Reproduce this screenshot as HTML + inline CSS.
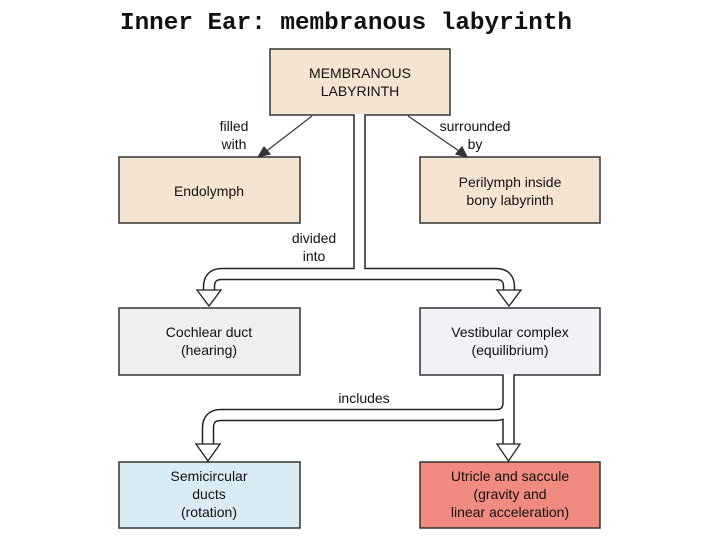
<!DOCTYPE html>
<html><head><meta charset="utf-8"><style>
html,body{margin:0;padding:0;background:#fff;}
svg{display:block;}
text{font-family:"Liberation Sans",Arial,sans-serif;fill:#111;}
</style></head><body>
<svg width="720" height="540" viewBox="0 0 720 540" xmlns="http://www.w3.org/2000/svg">
<text x="120" y="29" font-size="24" font-weight="bold" textLength="452" lengthAdjust="spacingAndGlyphs" style="font-family:'Liberation Mono',monospace">Inner Ear: membranous labyrinth</text>

<!-- boxes -->
<g stroke="#333" stroke-width="1.5">
<rect x="270" y="49" width="180" height="66" fill="#f6e4d3"/>
<rect x="119" y="157" width="181" height="66" fill="#f6e4d3"/>
<rect x="420" y="157" width="180" height="66" fill="#f6e4d3"/>
<rect x="119" y="308" width="181" height="67" fill="#efefef"/>
<rect x="420" y="308" width="180" height="67" fill="#f1f1f8"/>
<rect x="119" y="462" width="181" height="66" fill="#d9ecf4"/>
<rect x="420" y="462" width="180" height="66" fill="#f28b7f"/>
</g>

<!-- diagonal arrows -->
<g stroke="#333" stroke-width="1.2" fill="#333">
<line x1="312" y1="116" x2="264" y2="153"/>
<polygon points="258,157 264,147 270,154"/>
<line x1="408" y1="116" x2="462" y2="153"/>
<polygon points="467,157 456,154 462,147"/>
</g>

<!-- upper band -->
<g fill="none" stroke-linejoin="round">
<path d="M359.5 115 V274 H222 Q209 274 209 287 V292 M359.5 274 H496 Q509 274 509 287 V292" stroke="#222" stroke-width="12.5"/>
<path d="M359.5 114 V274 H222 Q209 274 209 287 V294 M359.5 274 H496 Q509 274 509 287 V294" stroke="#fff" stroke-width="9.5"/>
</g>
<g fill="#fff" stroke="#222" stroke-width="1.3">
<polygon points="197,290 221,290 209,306"/>
<polygon points="497,290 521,290 509,306"/>
</g>

<!-- lower band -->
<g fill="none" stroke-linejoin="round">
<path d="M508.5 375 V446 M508.5 376 V402 Q508.5 415 496 415 H221 Q208 415 208 428 V446" stroke="#222" stroke-width="12.5"/>
<path d="M508.5 374 V448 M508.5 376 V402 Q508.5 415 496 415 H221 Q208 415 208 428 V448" stroke="#fff" stroke-width="9.5"/>
</g>
<g fill="#fff" stroke="#222" stroke-width="1.3">
<polygon points="196,444 220,444 208,461"/>
<polygon points="497,444 520,444 508.5,461"/>
</g>

<!-- labels -->
<g font-size="14" text-anchor="middle">
<text x="360" y="78">MEMBRANOUS</text>
<text x="360" y="96">LABYRINTH</text>
<text x="209" y="196">Endolymph</text>
<text x="510" y="187">Perilymph inside</text>
<text x="510" y="205">bony labyrinth</text>
<text x="209" y="337">Cochlear duct</text>
<text x="209" y="355">(hearing)</text>
<text x="510" y="337">Vestibular complex</text>
<text x="510" y="355">(equilibrium)</text>
<text x="209" y="481">Semicircular</text>
<text x="209" y="499">ducts</text>
<text x="209" y="517">(rotation)</text>
<text x="510" y="481">Utricle and saccule</text>
<text x="510" y="499">(gravity and</text>
<text x="510" y="517">linear acceleration)</text>
<text x="234" y="131">filled</text>
<text x="234" y="149">with</text>
<text x="475" y="131">surrounded</text>
<text x="475" y="149">by</text>
<text x="314" y="243">divided</text>
<text x="314" y="261">into</text>
<text x="364" y="403">includes</text>
</g>
</svg>
</body></html>
